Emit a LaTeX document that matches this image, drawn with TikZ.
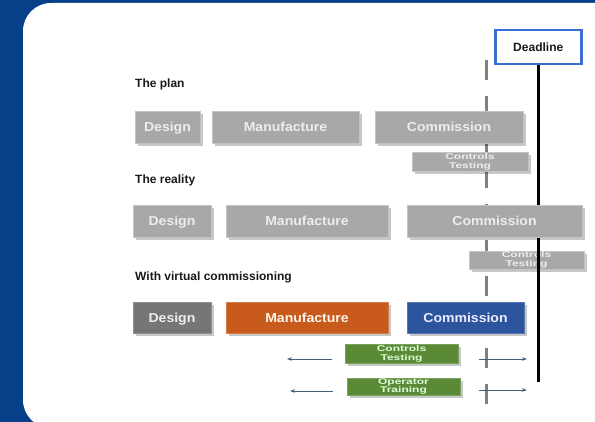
\documentclass[tikz,border=0pt]{standalone}
\usepackage{fontspec}
\setmainfont{Liberation Sans}
\newfontfamily\widefont[FakeStretch=1.45]{Liberation Sans}
\newfontfamily\boxfont[FakeStretch=1.08]{Liberation Sans}
\usetikzlibrary{shadows,arrows.meta}
\definecolor{bgblue}{HTML}{073F88}
\definecolor{boxgray}{HTML}{A8A8A8}
\definecolor{boxedge}{HTML}{C4C4C4}
\definecolor{boxtext}{HTML}{EDEDED}
\definecolor{darkgray}{HTML}{767676}
\definecolor{vmorange}{HTML}{C85A1B}
\definecolor{vcblue}{HTML}{2D559E}
\definecolor{vgreen}{HTML}{5B8A36}
\definecolor{dlblue}{HTML}{3B6FD5}
\definecolor{arrowc}{HTML}{4A5C7E}
\definecolor{dashgray}{HTML}{808080}
\definecolor{labelc}{HTML}{1A1A1A}
\begin{document}
\begin{tikzpicture}[x=1pt,y=-1pt,
  box/.style={anchor=north west, inner sep=0pt, outer sep=0pt, line width=0.8pt,
    drop shadow={shadow xshift=3pt,shadow yshift=-3pt,fill=black,opacity=0.22},
    font=\boxfont\bfseries\fontsize{13}{14}\selectfont, text=boxtext},
  bigtext/.style={text height=9.4pt, text depth=0pt},
  graybox/.style={box, fill=boxgray, draw=boxedge},
  smallbox/.style={font=\widefont\bfseries\fontsize{8.3}{8.8}\selectfont, align=center},
  rowlabel/.style={anchor=base west, inner sep=0pt, font=\bfseries\fontsize{12}{14}\selectfont, text=labelc},
  timearrow/.style={draw=arrowc, line width=0.7pt, -{Stealth[length=5pt,width=3.5pt]}}
]
\useasboundingbox (0,0) rectangle (595,422);
\fill[bgblue] (0,0) rectangle (595,422);
\fill[white, rounded corners=28pt] (23,3) rectangle (640,428);

% dashed reference line (behind boxes)
\coordinate (dtop) at (486,60);
\coordinate (dbot) at (486,405);
\draw[dashgray, line width=3pt, dash pattern=on 20pt off 16pt] (dtop) -- (dbot);

% Deadline
\node[anchor=north west, draw=dlblue, line width=2.5pt, fill=white, minimum width=86pt, minimum height=34pt, inner sep=0pt,
  font=\bfseries\fontsize{12}{14}\selectfont, text=labelc, text height=8.6pt, text depth=0pt] (dl) at (494,29) {Deadline};

% The plan
\node[rowlabel] (lplan) at (135,88) {The plan};
\node[graybox, bigtext, minimum width=65pt, minimum height=32pt] (pd) at (135,111) {Design};
\node[graybox, bigtext, minimum width=147pt, minimum height=32pt] (pm) at (212,111) {Manufacture};
\node[graybox, bigtext, minimum width=148pt, minimum height=32pt] (pc) at (375,111) {Commission};
\node[graybox, smallbox, minimum width=116pt, minimum height=19pt] (pt) at (412,152) {Controls\\Testing};

% The reality
\node[rowlabel] (lreal) at (135,184) {The reality};
\node[graybox, bigtext, minimum width=78pt, minimum height=32pt] (rd) at (133,205) {Design};
\node[graybox, bigtext, minimum width=162pt, minimum height=32pt] (rm) at (226,205) {Manufacture};
\node[graybox, smallbox, minimum width=115pt, minimum height=18pt] (rt) at (469,251) {Controls\\Testing};

% deadline line
\coordinate (dlend) at (538,382);
\draw[black, line width=3pt] (dl.south -| dlend) -- (dlend);

\node[graybox, bigtext, minimum width=175pt, minimum height=32pt] (rc) at (407,205) {Commission};

% With virtual commissioning
\node[rowlabel] (lvc) at (135,281) {With virtual commissioning};
\node[box, bigtext, fill=darkgray, draw=darkgray!80!white, text=boxtext, minimum width=78pt, minimum height=31pt] (vd) at (133,302) {Design};
\node[box, bigtext, fill=vmorange, draw=vmorange!80!white, text=white!92!orange, minimum width=162pt, minimum height=31pt] (vm) at (226,302) {Manufacture};
\node[box, bigtext, fill=vcblue, draw=vcblue!80!white, text=white!92!blue, minimum width=117pt, minimum height=31pt] (vc) at (407,302) {Commission};
\node[box, smallbox, fill=vgreen, draw=vgreen!80!white, text=white!85!green, minimum width=113pt, minimum height=19pt] (vt) at (345,344) {Controls\\Testing};
\node[box, smallbox, fill=vgreen, draw=vgreen!80!white, text=white!85!green, minimum width=113pt, minimum height=17pt] (vo) at (347,378) {Operator\\Training};

% shift arrows
\coordinate (a1s) at (332,359); \coordinate (a1e) at (287,359);
\coordinate (a2s) at (333,391); \coordinate (a2e) at (290,391);
\coordinate (a3s) at (479,359); \coordinate (a3e) at (527,359);
\coordinate (a4s) at (479,390); \coordinate (a4e) at (527,390);
\draw[timearrow] (a1s) -- (a1e);
\draw[timearrow] (a2s) -- (a2e);
\draw[timearrow] (a3s) -- (a3e);
\draw[timearrow] (a4s) -- (a4e);
\end{tikzpicture}
\end{document}
